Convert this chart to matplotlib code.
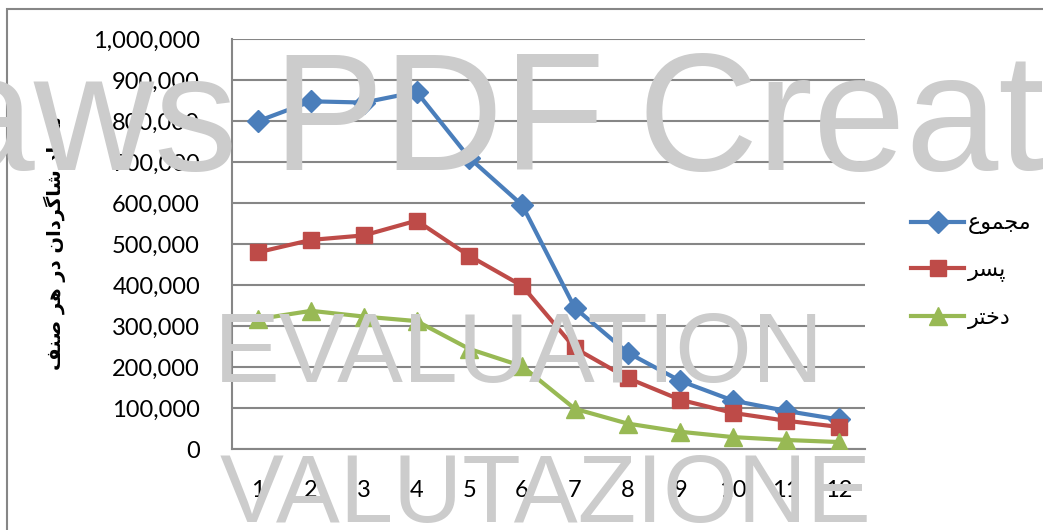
import matplotlib
matplotlib.use('Agg')
import matplotlib.pyplot as plt
import matplotlib.patches as mpatches
from matplotlib.ticker import FuncFormatter

# grades 1..12
grades = list(range(1, 13))
total = [800000, 848000, 845000, 871000, 710000, 595000, 344000, 235000, 166000, 118000, 93000, 72000]
boys = [480000, 510000, 521000, 557000, 471000, 398000, 246000, 173000, 120000, 88000, 69000, 54000]
girls = [317000, 337000, 323000, 312000, 244000, 202000, 98000, 62000, 42000, 29000, 22000, 17000]

# Persian labels written in presentation forms (visual order), since matplotlib does no shaping
lbl_total = "\uFEC9\uFEEE\uFEE4\uFEA0\uFEE3"          # مجموع
lbl_boys = "\uFEAE\uFEB4\uFB58"                       # پسر
lbl_girls = "\uFEAE\uFE98\uFEA7\uFEA9"                # دختر
ylabel_txt = ("\uFED2\uFEE8\uFEBB" + " " + "\uFEAE\uFEEB" + " " + "\uFEAD\uFEA9" + " "
              + "\uFEE5\uFE8D\uFEA9\uFEAE\uFB94\uFE8E\uFEB7" + " "
              + "\uFEA9\uFE8D\uFEAA\uFECC\uFE97")      # تعداد شاگردان در هر صنف

W, H = 1043, 530
fig = plt.figure(figsize=(W / 100, H / 100), dpi=100)
fig.patch.set_facecolor('white')

def px(x, y):
    return x / W, 1 - y / H

# outer chart frame (cropped on right/bottom)
frame = mpatches.Rectangle(px(7, 560), 1.2, (560 - 9) / H, transform=fig.transFigure,
                           fill=False, edgecolor='#868686', lw=1.5, zorder=0)
fig.patches.append(frame)

l, b = px(232, 449)
r, t = px(865, 39)
ax = fig.add_axes([l, b, r - l, t - b])

c_total, c_boys, c_girls = '#4A7EBB', '#BE4B48', '#98B954'
ax.plot(grades, total, color=c_total, lw=3, marker='D', ms=11, label=lbl_total, zorder=3)
ax.plot(grades, boys, color=c_boys, lw=3, marker='s', ms=12, label=lbl_boys, zorder=3)
ax.plot(grades, girls, color=c_girls, lw=3, marker='^', ms=13, label=lbl_girls, zorder=3)

ax.set_xlim(0.5, 12.5)
ax.set_ylim(0, 1000000)
ax.set_yticks(range(0, 1000001, 100000))
ax.set_xticks(grades)
ax.yaxis.set_major_formatter(FuncFormatter(lambda v, p: f'{int(v):,}'))
ax.grid(axis='y', color='#868686', lw=1.5)
ax.set_axisbelow(True)
for s in ['top', 'right']:
    ax.spines[s].set_visible(False)
for s in ['left', 'bottom']:
    ax.spines[s].set_color('#868686')
    ax.spines[s].set_linewidth(1.5)
ax.tick_params(axis='both', length=0, labelsize=17)
ax.tick_params(axis='y', pad=23)
ax.tick_params(axis='x', pad=22)
for lab in ax.get_xticklabels() + ax.get_yticklabels():
    lab.set_fontfamily('Lato')

fig.text(55 / W, 1 - 243 / H, ylabel_txt, rotation=90, ha='center', va='center',
         fontsize=14, fontweight='bold', family=['DejaVu Sans'])

leg = fig.legend(loc='center left', bbox_to_anchor=px(900, 271), frameon=False,
                 prop={'family': 'DejaVu Sans', 'size': 16}, handlelength=2.4,
                 handletextpad=0.15, labelspacing=1.15, borderpad=0)

# watermark text over the chart
wm = dict(color='#CCCCCC', family='Liberation Sans', va='baseline', ha='left', zorder=10)
fig.text(*px(-58, 170), 'aws', fontsize=120, **wm)
fig.text(*px(272, 170), 'PDF', fontsize=120, **wm)
fig.text(*px(637, 170), 'Creator', fontsize=120, **wm)
fig.text(*px(214, 382), 'EVALUATION', fontsize=71, **wm)
fig.text(*px(220, 522), 'VALUTAZIONE', fontsize=69, **wm)

fig.savefig('out.png', dpi=100)
